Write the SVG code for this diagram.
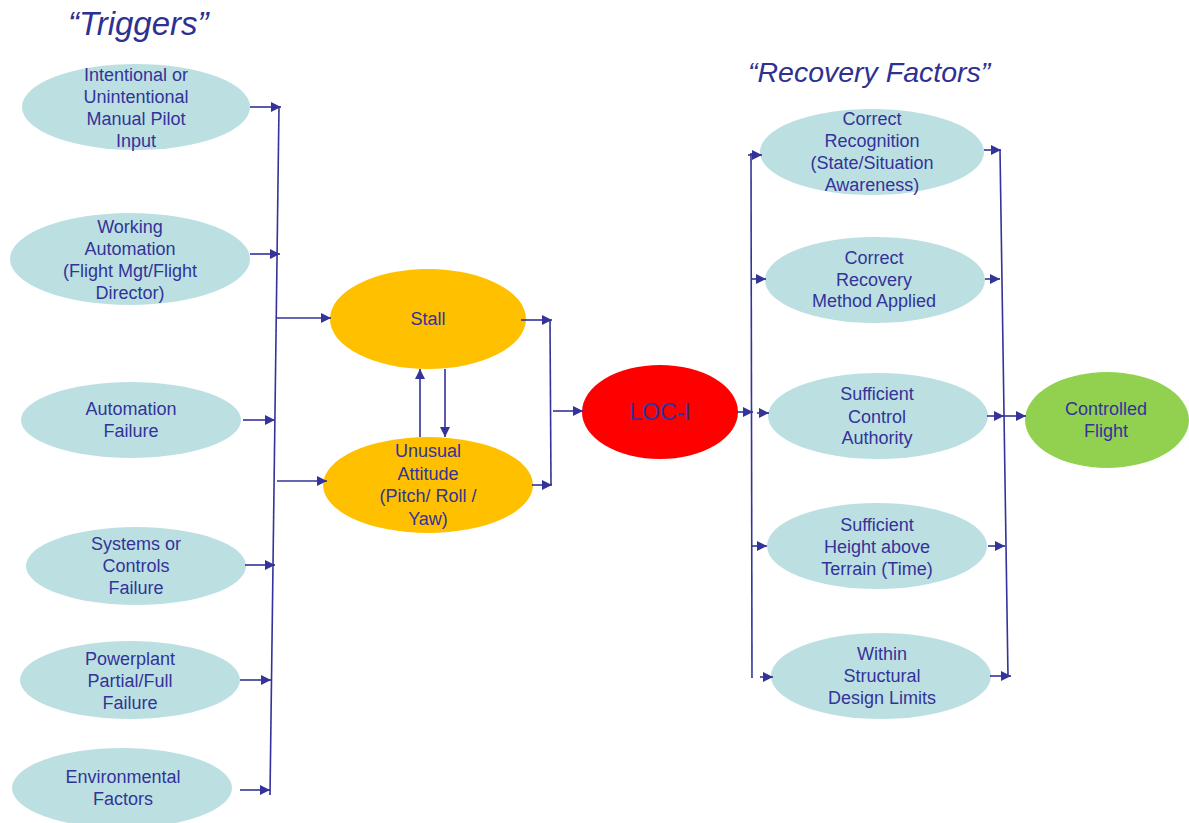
<svg xmlns="http://www.w3.org/2000/svg" width="1189" height="823" viewBox="0 0 1189 823">
<style>
.t{font-family:"Liberation Sans",Arial,sans-serif;font-size:18px;fill:#333399;text-anchor:middle}
.ti{font-family:"Liberation Sans",Arial,sans-serif;font-style:italic;fill:#2E3192}
.big{font-size:23px}
.b{fill:#BCE0E2}
.o{fill:#FFC000}
.c{fill:none;stroke:#333399;stroke-width:1.6}
.a{fill:none;stroke:#333399;stroke-width:1.6;marker-end:url(#ah)}
</style>
<defs>
<marker id="ah" viewBox="0 0 10 10" refX="10" refY="5" markerWidth="12" markerHeight="10" markerUnits="userSpaceOnUse" orient="auto">
<path d="M0,0 L10,5 L0,10 z" fill="#333399"/>
</marker>
</defs>
<rect width="1189" height="823" fill="#fff"/>
<text class="ti" x="68" y="35" style="font-size:33px">“Triggers”</text>
<text class="ti" x="748" y="82" style="font-size:28.5px">“Recovery Factors”</text>

<g id="n1"><ellipse class="b" cx="136" cy="107" rx="114" ry="43"/>
<text class="t"><tspan x="136" y="81">Intentional or</tspan><tspan x="136" y="103">Unintentional</tspan><tspan x="136" y="125">Manual Pilot</tspan><tspan x="136" y="147">Input</tspan></text></g>
<g id="n2"><ellipse class="b" cx="130" cy="259" rx="120" ry="46"/>
<text class="t"><tspan x="130" y="233">Working</tspan><tspan x="130" y="255">Automation</tspan><tspan x="130" y="277">(Flight Mgt/Flight</tspan><tspan x="130" y="299">Director)</tspan></text></g>
<g id="n3"><ellipse class="b" cx="131" cy="420" rx="110" ry="38"/>
<text class="t"><tspan x="131" y="415">Automation</tspan><tspan x="131" y="437">Failure</tspan></text></g>
<g id="n4"><ellipse class="b" cx="136" cy="566" rx="110" ry="39"/>
<text class="t"><tspan x="136" y="550">Systems or</tspan><tspan x="136" y="572">Controls</tspan><tspan x="136" y="594">Failure</tspan></text></g>
<g id="n5"><ellipse class="b" cx="130" cy="680" rx="110" ry="39"/>
<text class="t"><tspan x="130" y="665">Powerplant</tspan><tspan x="130" y="687">Partial/Full</tspan><tspan x="130" y="709">Failure</tspan></text></g>
<g id="n6"><ellipse class="b" cx="122" cy="788" rx="110" ry="40"/>
<text class="t"><tspan x="123" y="783">Environmental</tspan><tspan x="123" y="805">Factors</tspan></text></g>

<g id="stall"><ellipse class="o" cx="428" cy="319" rx="98" ry="50"/>
<text class="t" x="428" y="325">Stall</text></g>
<g id="unusual"><ellipse class="o" cx="428" cy="485" rx="105" ry="48"/>
<text class="t"><tspan x="428" y="457">Unusual</tspan><tspan x="428" y="480">Attitude</tspan><tspan x="428" y="502">(Pitch/ Roll /</tspan><tspan x="428" y="525">Yaw)</tspan></text></g>
<g id="loci"><ellipse fill="#FF0000" cx="660" cy="412" rx="78" ry="47"/>
<text class="t big" x="660" y="420">LOC-I</text></g>

<g id="r1"><ellipse class="b" cx="872" cy="152" rx="112" ry="43"/>
<text class="t"><tspan x="872" y="125">Correct</tspan><tspan x="872" y="147">Recognition</tspan><tspan x="872" y="169">(State/Situation</tspan><tspan x="872" y="191">Awareness)</tspan></text></g>
<g id="r2"><ellipse class="b" cx="875" cy="280" rx="110" ry="43"/>
<text class="t"><tspan x="874" y="264">Correct</tspan><tspan x="874" y="286">Recovery</tspan><tspan x="874" y="307">Method Applied</tspan></text></g>
<g id="r3"><ellipse class="b" cx="878" cy="416" rx="110" ry="43"/>
<text class="t"><tspan x="877" y="400">Sufficient</tspan><tspan x="877" y="423">Control</tspan><tspan x="877" y="444">Authority</tspan></text></g>
<g id="r4"><ellipse class="b" cx="877" cy="546" rx="110" ry="43"/>
<text class="t"><tspan x="877" y="531">Sufficient</tspan><tspan x="877" y="553">Height above</tspan><tspan x="877" y="575">Terrain (Time)</tspan></text></g>
<g id="r5"><ellipse class="b" cx="881" cy="676" rx="110" ry="43"/>
<text class="t"><tspan x="882" y="660">Within</tspan><tspan x="882" y="682">Structural</tspan><tspan x="882" y="704">Design Limits</tspan></text></g>
<g id="cf"><ellipse fill="#92D050" cx="1107" cy="420" rx="82" ry="48"/>
<text class="t"><tspan x="1106" y="415">Controlled</tspan><tspan x="1106" y="437">Flight</tspan></text></g>

<g id="connectors">
<path class="c" d="M279,106 L270,795"/>
<path class="a" d="M250,107 H281"/>
<path class="a" d="M250,254 H280"/>
<path class="a" d="M243,420 H275"/>
<path class="a" d="M245,565 H275"/>
<path class="a" d="M240,680 H271"/>
<path class="a" d="M240,790 H270"/>
<path class="a" d="M277,318 H331"/>
<path class="a" d="M277,481 H327"/>
<path class="a" d="M420,437 V369"/>
<path class="a" d="M445,369 V437"/>
<path class="a" d="M521,320 H552"/>
<path class="a" d="M532,485 H552"/>
<path class="c" d="M550,320 L551,485"/>
<path class="a" d="M553,411 H583"/>
<path class="a" d="M737,412 H753"/>
<path class="c" d="M751,153 L752,678"/>
<path class="a" d="M748,155 H762"/>
<path class="a" d="M752,279 H766"/>
<path class="a" d="M757,413 H769"/>
<path class="a" d="M752,546 H767"/>
<path class="a" d="M760,677 H773"/>
<path class="c" d="M1000,150 L1008,677"/>
<path class="a" d="M984,150 H1001"/>
<path class="a" d="M985,279 H1000"/>
<path class="a" d="M987,416 H1004"/>
<path class="a" d="M988,546 H1005"/>
<path class="a" d="M990,676 H1011"/>
<path class="a" d="M1004,416 H1026"/>
</g>
</svg>
